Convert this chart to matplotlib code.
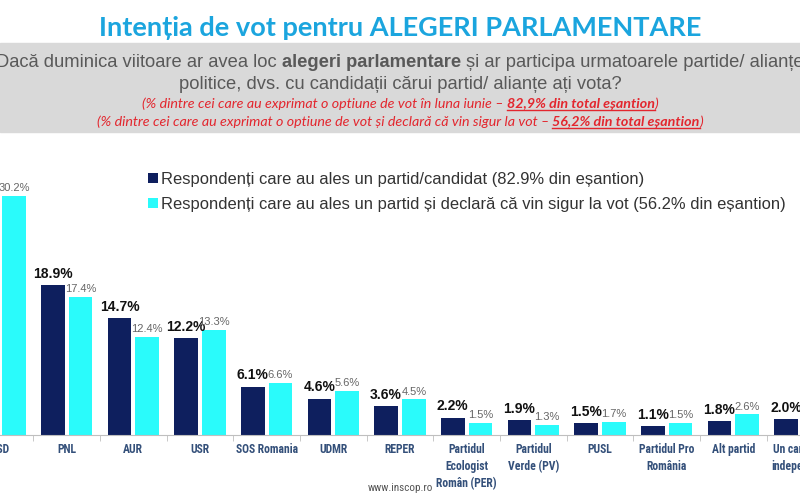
import matplotlib
matplotlib.use('Agg')
import matplotlib.pyplot as plt
from matplotlib import font_manager
from matplotlib.lines import Line2D
from matplotlib.patches import Rectangle
import numpy as np

W, H = 800, 500

parties = ['PSD', 'PNL', 'AUR', 'USR', 'SOS Romania', 'UDMR', 'REPER',
           'Partidul\nEcologist\nRomân (PER)', 'Partidul\nVerde (PV)', 'PUSL',
           'Partidul Pro\nRomânia', 'Alt partid', 'Un candidat\nindependent']
all_resp = [29.5, 18.9, 14.7, 12.2, 6.1, 4.6, 3.6, 2.2, 1.9, 1.5, 1.1, 1.8, 2.0]
sure_vote = [30.2, 17.4, 12.4, 13.3, 6.6, 5.6, 4.5, 1.5, 1.3, 1.7, 1.5, 2.6, 1.9]
legend_labels = ['Respondenți care au ales un partid/candidat (82.9% din eșantion)',
                 'Respondenți care au ales un partid și declară că vin sigur la vot (56.2% din eșantion)']

dark = '#0E1F5E'
cyan = '#2AFBFB'

installed = {f.name for f in font_manager.fontManager.ttflist}
narrow = None
for name in ['Liberation Sans Narrow', 'Arial Narrow', 'Roboto Condensed', 'DejaVu Sans Condensed']:
    if name in installed:
        narrow = name
        break
if narrow is None:
    narrow = 'Liberation Sans'
    cat_size = 7.6
else:
    cat_size = 8.4

fig = plt.figure(figsize=(8, 5), dpi=100)
renderer = fig.canvas.get_renderer()


def fy(y_px):
    return 1 - y_px / H


def rich_line(y_px, pieces, size, family, color):
    # pieces: (text, weight, style, underline); laid out left to right, centred
    texts = []
    for s, weight, style, ul in pieces:
        t = fig.text(0, fy(y_px), s, fontsize=size, family=family, color=color,
                     fontweight=weight, fontstyle=style, va='baseline', ha='left')
        texts.append(t)
    widths = [t.get_window_extent(renderer).width for t in texts]
    x = W / 2 - sum(widths) / 2
    for t, w, p in zip(texts, widths, pieces):
        t.set_x(x / W)
        if p[3]:
            fig.add_artist(Line2D([x / W, (x + w) / W], [fy(y_px + 2), fy(y_px + 2)],
                                  color=color, lw=1, transform=fig.transFigure))
        x += w


# header
fig.text(0.5, fy(28), 'Intenția de vot pentru ALEGERI PARLAMENTARE', ha='center', va='center',
         fontsize=19.5, fontweight='bold', family='Lato', color='#1BA5DE')
fig.add_artist(Rectangle((0, fy(132)), 1, (132 - 43) / H, transform=fig.transFigure,
                         color='#D9D9D9', zorder=0))
grey = '#595959'
rich_line(67, [('Dacă duminica viitoare ar avea loc ', 'normal', 'normal', False),
               ('alegeri parlamentare ', 'bold', 'normal', False),
               ('și ar participa urmatoarele partide/ alianțe', 'normal', 'normal', False)],
          13.2, 'Liberation Sans', grey)
rich_line(89, [('politice, dvs. cu candidații cărui partid/ alianțe ați vota?', 'normal', 'normal', False)],
          13.2, 'Liberation Sans', grey)
red = '#E3262E'
rich_line(108, [('(% dintre cei care au exprimat o optiune de vot în luna iunie – ', 'normal', 'italic', False),
                ('82,9% din total eșantion', 'bold', 'italic', True),
                (')', 'normal', 'italic', False)],
          10.3, 'Lato', red)
rich_line(126, [('(% dintre cei care au exprimat o optiune de vot și declară că vin sigur la vot – ', 'normal', 'italic', False),
                ('56,2% din total eșantion', 'bold', 'italic', True),
                (')', 'normal', 'italic', False)],
          10.3, 'Lato', red)

# chart
ax = fig.add_axes([0, (H - 435) / H, 1, 285 / H])
x = np.arange(len(parties))
bw = 0.356
off = 0.208
b1 = ax.bar(x - off, all_resp, bw, color=dark, label=legend_labels[0])
b2 = ax.bar(x + off, sure_vote, bw, color=cyan, label=legend_labels[1])
ax.bar_label(b1, labels=[f'{v:.1f}%' for v in all_resp], padding=3,
             fontsize=10, fontweight='bold', family='Liberation Sans', color='#111111')
ax.bar_label(b2, labels=[f'{v:.1f}%' for v in sure_vote], padding=2,
             fontsize=8, family='Liberation Sans', color='#666666')
ax.set_xlim(0.080, 11.95)
ax.set_ylim(0, 285 / 7.93)
for s in ['top', 'left', 'right']:
    ax.spines[s].set_visible(False)
ax.spines['bottom'].set_color('#BFBFBF')
ax.set_yticks([])
ax.set_xticks(x)
ax.set_xticklabels(parties, fontsize=cat_size, fontweight='bold', family=narrow,
                   color='#34507A', linespacing=1.4)
ax.tick_params(axis='x', length=0, pad=6)
ax.set_xticks(x[:-1] + 0.5, minor=True)
ax.tick_params(axis='x', which='minor', length=4, color='#BFBFBF')

ax.legend(loc='upper left', bbox_to_anchor=(133 / W, fy(157)), bbox_transform=fig.transFigure,
          frameon=False, handlelength=0.6, handleheight=0.6, handletextpad=0.18,
          labelspacing=0.6, labelcolor='#333333', prop={'family': 'Liberation Sans', 'size': 11.9})

fig.text(0.5, fy(488), 'www.inscop.ro', ha='center', va='center', fontsize=8,
         family=narrow, color='#555555')

fig.savefig('out.png', dpi=100)
